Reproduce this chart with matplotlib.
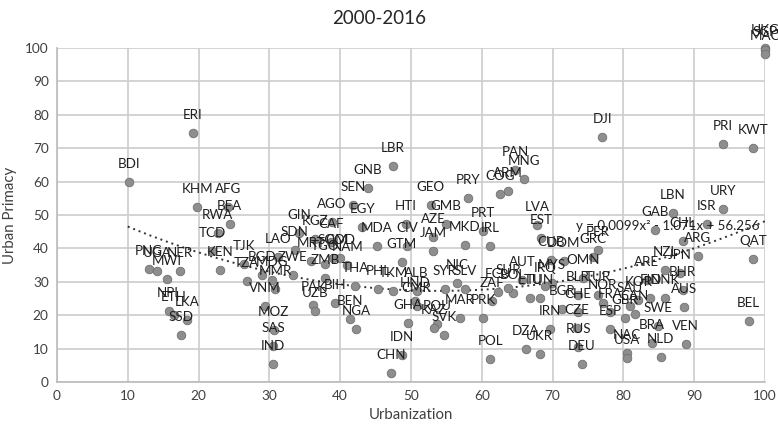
import matplotlib
matplotlib.use("Agg")
import matplotlib.pyplot as plt
import numpy as np

plt.rcParams['font.family'] = ['Lato', 'DejaVu Sans']

codes = ["BDI","ERI","KHM","AFG","BFA","RWA","TCD","KEN","PNG","UGA","NER","MWI",
         "NPL","ETH","LKA","SSD","TJK","TZA","BGD","ZWE","MDG","MMR","VNM","MOZ",
         "SAS","IND","LAO","SDN","GIN","KGZ","CAF","MRT","TGO","NAM","SOM","COD",
         "ZMB","BIH","PAK","UZB","THA","BEN","NGA","AGO","EGY","SEN","GNB","LBR",
         "MDA","HTI","CIV","GTM","GEO","GMB","PRY","AZE","JAM","MKD","PRT","IRL",
         "PHL","TKM","ALB","HND","CMR","GHA","IDN","CHN","SYR","NIC","SLV","ROU",
         "KAZ","SVK","MAR","PRK","POL","ZAF","ECU","BOL","SUR","TUN","AUT","MYS",
         "IRQ","LTU","LVA","EST","CUB","DOM","GRC","PER","OMN","DJI","PAN","MNG",
         "COG","ARM","CHE","BGR","BLR","TUR","IRN","CZE","RUS","DEU","DZA","UKR",
         "ESP","FRA","NOR","NAC","USA","KOR","SAU","FIN","DNK","GBR","CAN","SWE",
         "AUS","BHR","ARE","NZL","JPN","ARG","CHL","BRA","NLD","VEN","GAB","LBN",
         "ISR","URY","PRI","KWT","HKG","SGP","MAC","QAT","BEL"]

urbanization = [10.2,19.2,19.8,24.2,24.4,22.7,21.9,23.0,13.0,14.1,17.4,15.5,
                15.8,16.5,18.4,17.5,26.4,26.8,28.9,33.3,30.3,30.8,29.4,30.6,
                30.5,30.5,31.2,33.6,34.2,36.4,38.7,35.9,37.9,41.0,39.0,40.0,
                37.9,39.3,36.2,36.4,42.1,41.4,42.2,38.8,43.1,41.8,43.9,47.4,
                45.2,49.3,49.4,48.7,52.8,54.9,58.1,53.1,53.1,57.6,60.2,61.2,
                45.4,47.5,50.8,50.6,50.8,49.6,48.7,47.2,54.8,56.5,57.6,53.7,
                53.2,54.7,56.9,60.2,61.2,61.4,62.3,64.4,63.7,68.2,65.7,69.9,
                68.9,66.8,67.8,68.4,69.8,71.6,75.7,76.4,74.3,77.0,64.7,66.0,
                62.6,63.7,73.6,71.3,73.6,76.4,69.6,73.4,73.6,74.1,66.2,68.2,
                78.1,78.1,77.1,80.5,80.5,82.1,80.9,83.8,85.9,80.2,81.6,84.9,
                88.6,88.4,83.3,85.9,88.0,90.5,88.4,84.0,85.3,88.8,84.5,87.0,
                91.8,94.1,94.0,98.3,100.0,100.0,100.0,98.3,97.7]

primacy = [60.0,74.6,52.4,52.4,47.3,44.6,39.2,33.5,33.8,33.2,33.2,30.8,
           21.3,20.1,18.6,14.1,35.3,30.2,32.0,32.0,30.5,27.8,22.7,15.6,
           10.8,5.4,37.4,39.5,44.6,42.8,41.9,36.2,35.3,35.0,37.1,37.1,
           31.2,23.6,23.1,21.3,28.7,18.9,15.8,47.9,46.4,53.0,58.1,64.7,
           40.7,47.3,40.7,36.0,53.0,47.3,55.0,43.4,39.2,41.0,45.2,40.7,
           27.9,27.2,27.2,24.2,22.8,17.7,8.0,2.6,27.9,29.6,27.9,17.4,
           16.2,14.1,19.2,19.2,7.0,24.2,26.9,26.6,28.1,25.1,30.5,29.6,
           28.7,25.1,47.0,43.2,36.5,36.2,37.4,39.5,31.2,73.4,63.5,60.8,
           56.2,57.3,21.0,21.9,26.0,26.0,15.9,16.2,10.5,5.4,9.9,8.4,
           15.9,21.0,23.7,8.7,7.3,24.6,22.7,25.1,25.1,19.2,20.4,16.8,
           22.5,27.5,30.5,33.5,32.7,37.8,42.2,11.7,7.5,11.4,45.5,50.5,
           47.3,51.8,71.3,70.0,100.0,99.4,98.2,36.7,18.3]

trend_coef = [0.0099, -1.071, 56.256]
trend_label = "y = 0.0099x² - 1.071x + 56.256"

fig = plt.figure(figsize=(7.78, 4.34), dpi=100)
ax = fig.add_axes([57/778, 1-382/434, (765-57)/778, (382-48)/434])

ax.scatter(urbanization, primacy, s=38, color="#8e8e8e", edgecolors="#707070",
           linewidths=0.6, zorder=3, clip_on=False)

for c, x, y in zip(codes, urbanization, primacy):
    ax.annotate(c, (x, y), xytext=(0, 13), textcoords="offset points",
                ha="center", va="center", fontsize=9.6, color="#1f1f1f", zorder=4,
                annotation_clip=False)

xs = np.linspace(10, 100, 200)
ax.plot(xs, np.polyval(trend_coef, xs), linestyle=(0, (1, 2)), color="#333333",
        linewidth=1.4, zorder=2)
ax.text(86.2, 46.7, trend_label, ha="center", va="center", fontsize=9.6,
        color="#1f1f1f", zorder=4)

ax.set_xlim(0, 100)
ax.set_ylim(0, 100)
ax.set_xticks(range(0, 101, 10))
ax.set_yticks(range(0, 101, 10))
ax.grid(True, color="#cccccc", linewidth=1.2, zorder=0)
ax.set_axisbelow(True)
for s in ["top", "right"]:
    ax.spines[s].set_visible(False)
for s in ["left", "bottom"]:
    ax.spines[s].set_color("#bbbbbb")
    ax.spines[s].set_linewidth(1.2)
ax.tick_params(length=0, labelsize=9.8, labelcolor="#404040", pad=6)

ax.set_xlabel("Urbanization", fontsize=10.8, color="#404040", labelpad=4)
ax.set_ylabel("Urban Primacy", fontsize=10.8, color="#404040", labelpad=6)
fig.text(379/778, 1-18/434, "2000-2016", ha="center", va="center",
         fontsize=13.5, color="#262626")

fig.savefig("out.png", dpi=100)
